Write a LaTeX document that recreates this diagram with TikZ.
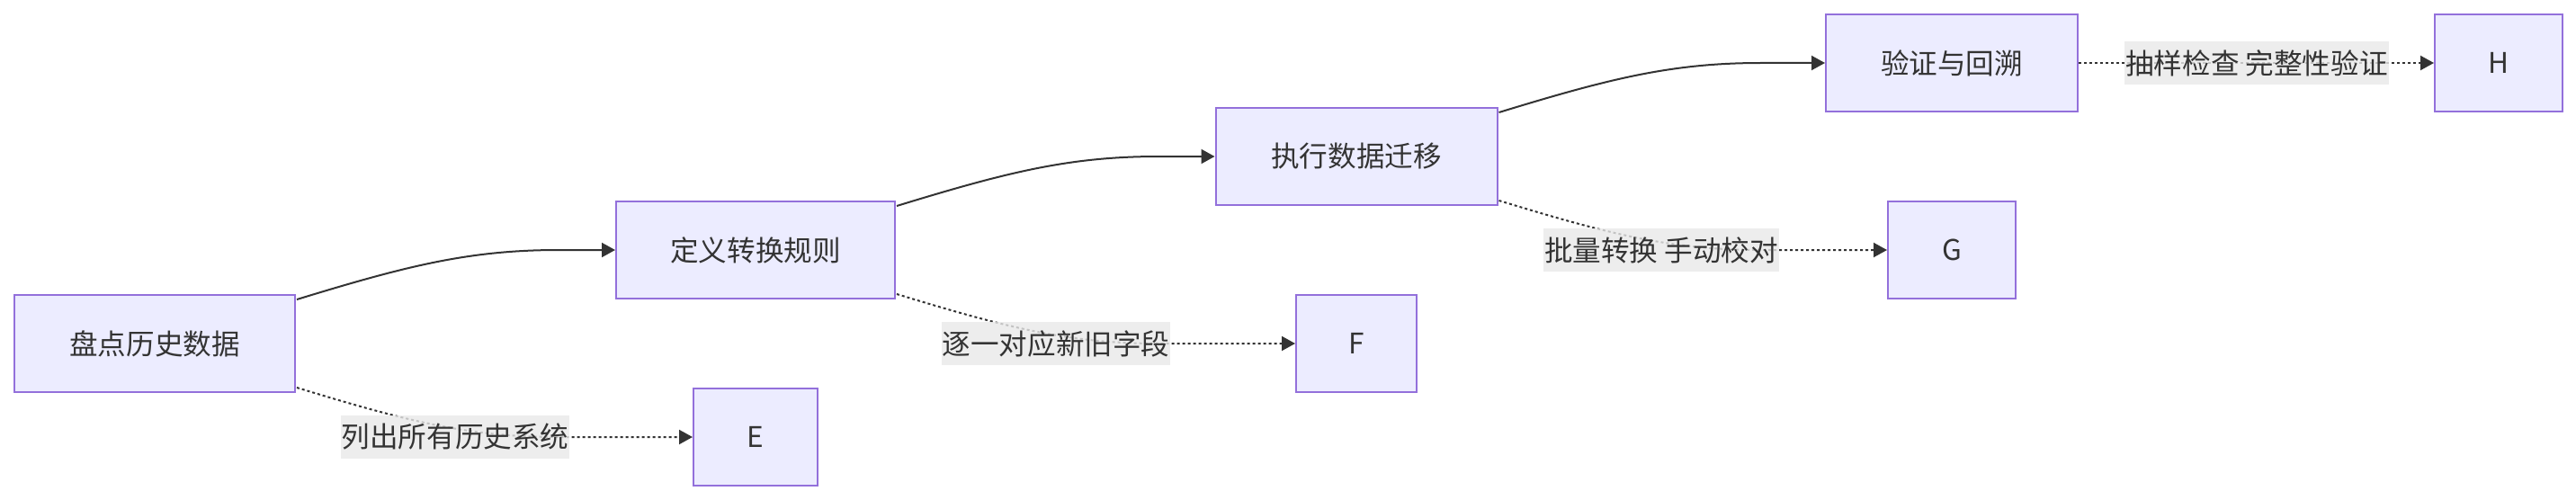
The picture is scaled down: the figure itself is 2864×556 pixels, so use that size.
\documentclass[tikz,border=0pt]{standalone}
\usepackage{fontspec}
\setmainfont{Noto Sans CJK SC}
\usetikzlibrary{arrows.meta,calc}
\definecolor{nodefill}{HTML}{ECECFF}
\definecolor{nodeline}{HTML}{9370DB}
\definecolor{ink}{HTML}{333333}
\definecolor{lblbg}{HTML}{E8E8E8}
\begin{document}
\begin{tikzpicture}[x=0.5pt,y=-0.5pt,
  box/.style={draw=nodeline,fill=nodefill,line width=1pt,text=ink,inner sep=0pt,
    minimum height=54pt,font=\fontsize{15.8}{19}\selectfont},
  lbl/.style={fill=lblbg,fill opacity=0.8,text opacity=1,text=ink,inner xsep=0.5pt,inner ysep=0pt,
    minimum height=24pt,font=\fontsize{15.8}{19}\selectfont},
  solidedge/.style={draw=ink,line width=1pt,-{Triangle[length=7.5pt,width=8pt]}},
  dotedge/.style={draw=ink,line width=1pt,dash pattern=on 1.5pt off 1.5pt,-{Triangle[length=7.5pt,width=8pt]}}
]
\useasboundingbox (0,0) rectangle (2864,556);
\node[box,minimum width=156pt] (A) at (172,382) {盘点历史数据};
\node[box,minimum width=155pt] (B) at (840,278) {定义转换规则};
\node[box,minimum width=156.5pt] (C) at (1508,174) {执行数据迁移};
\node[box,minimum width=140pt] (D) at (2170,70) {验证与回溯};
\node[box,minimum width=69pt] (E) at (840,486) {E};
\node[box,minimum width=67pt] (F) at (1508,382) {F};
\node[box,minimum width=71pt] (G) at (2170,278) {G};
\node[box,minimum width=71pt] (H) at (2778,70) {H};
% solid edges
\draw[solidedge] ($(A.east)+(1,-49)$) .. controls ($(A.east)+(122,-86)$) and ($(A.east)+(192,-104)$) .. ($(A.east)+(292,-104)$) -- (B.west);
\draw[solidedge] ($(B.east)+(1,-49)$) .. controls ($(B.east)+(122,-86)$) and ($(B.east)+(192,-104)$) .. ($(B.east)+(292,-104)$) -- (C.west);
\draw[solidedge] ($(C.east)+(1,-49)$) .. controls ($(C.east)+(122,-86)$) and ($(C.east)+(192,-104)$) .. ($(C.east)+(292,-104)$) -- (D.west);
% dotted edges
\draw[dotedge] ($(A.east)+(1,49)$) .. controls ($(A.east)+(122,86)$) and ($(A.east)+(192,104)$) .. ($(A.east)+(292,104)$) -- (E.west);
\draw[dotedge] ($(B.east)+(1,49)$) .. controls ($(B.east)+(122,86)$) and ($(B.east)+(192,104)$) .. ($(B.east)+(292,104)$) -- (F.west);
\draw[dotedge] ($(C.east)+(1,49)$) .. controls ($(C.east)+(122,86)$) and ($(C.east)+(192,104)$) .. ($(C.east)+(292,104)$) -- (G.west);
\draw[dotedge] (D.east) -- (H.west);
% labels
\node[lbl] (l1) at (506,486) {列出所有历史系统};
\node[lbl] (l2) at (1174,382) {逐一对应新旧字段};
\node[lbl] (l3) at (1847,278) {批量转换 手动校对};
\node[lbl] (l4) at (2509,70) {抽样检查 完整性验证};
\end{tikzpicture}
\end{document}
